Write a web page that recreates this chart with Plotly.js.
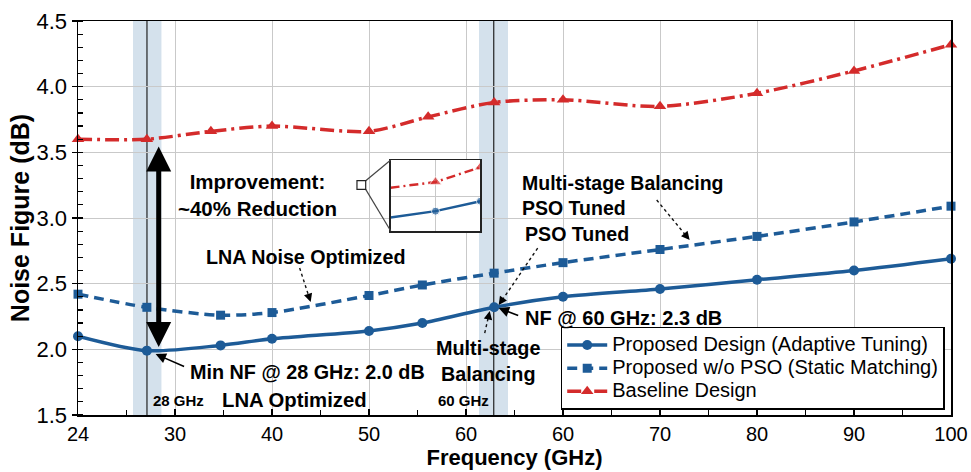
<!DOCTYPE html>
<html>
<head>
<meta charset="utf-8">
<script src="https://cdn.plot.ly/plotly-3.0.1.min.js"></script>
<style>
html,body{margin:0;padding:0;background:#fff;}
#chart{width:971px;height:472px;}
text.legendtext{font-size:20px !important;}
</style>
</head>
<body>
<div id="chart"></div>
<script>
// ---- data (x = position on the evenly spaced frequency axis, 0 = first tick) ----
var tickPos = [0, 1, 2, 3, 4, 5, 6, 7, 8, 9];
var tickLabels = ['24', '30', '40', '50', '60', '60', '70', '80', '90', '100'];

var xProposed = [0, 0.71, 1.47, 2.0, 3.0, 3.55, 4.29, 5, 6, 7, 8, 9];
var nfProposed = [2.10, 1.99, 2.03, 2.08, 2.14, 2.20, 2.32, 2.40, 2.46, 2.53, 2.60, 2.69];

var xNoPSO = [0, 0.71, 1.47, 2.0, 3.0, 3.55, 4.29, 5, 6, 7, 8, 9];
var nfNoPSO = [2.42, 2.32, 2.26, 2.28, 2.41, 2.49, 2.58, 2.66, 2.76, 2.86, 2.97, 3.09];

var xBaseline = [0, 0.71, 1.37, 2.0, 3.0, 3.61, 4.29, 5, 6, 7, 8, 9];
var nfBaseline = [3.60, 3.60, 3.66, 3.70, 3.66, 3.77, 3.88, 3.90, 3.85, 3.95, 4.12, 4.32];

// magnified inset (schematic, own units)
var insetX = [0, 1, 2];
var insetBaseline = [0.61, 0.69, 0.90];
var insetProposed = [0.19, 0.28, 0.42];

var seriesNames = ['Proposed Design (Adaptive Tuning)', 'Proposed w/o PSO (Static Matching)', 'Baseline Design'];

var BLUE = '#1d5b97';
var RED = '#d42b2b';
var FONT = 'Liberation Sans, Arial, Helvetica, sans-serif';

var traces = [
  {x: xProposed, y: nfProposed, name: seriesNames[0], type: 'scatter', mode: 'lines+markers',
   line: {color: BLUE, width: 3.5, shape: 'spline', smoothing: 0.8},
   marker: {symbol: 'circle', size: 10, color: BLUE}, cliponaxis: false},
  {x: xNoPSO, y: nfNoPSO, name: seriesNames[1], type: 'scatter', mode: 'lines+markers',
   line: {color: BLUE, width: 3.5, dash: '10px,6px', shape: 'spline', smoothing: 0.8},
   marker: {symbol: 'square', size: 9, color: BLUE}, cliponaxis: false},
  {x: xBaseline, y: nfBaseline, name: seriesNames[2], type: 'scatter', mode: 'lines+markers',
   line: {color: RED, width: 3.5, dash: '14px,5px,3px,5px', shape: 'spline', smoothing: 0.8},
   marker: {symbol: 'triangle-up', size: 11, color: RED}, cliponaxis: false},
  // inset
  {x: insetX, y: insetBaseline, xaxis: 'x2', yaxis: 'y2', type: 'scatter', mode: 'lines+markers', showlegend: false,
   line: {color: RED, width: 2.5, dash: '9px,4px,2px,4px'},
   marker: {symbol: 'triangle-up', size: [0, 11, 11], color: RED}, hoverinfo: 'skip'},
  {x: insetX, y: insetProposed, xaxis: 'x2', yaxis: 'y2', type: 'scatter', mode: 'lines+markers', showlegend: false,
   line: {color: BLUE, width: 2.5},
   marker: {symbol: 'circle', size: [0, 8, 8], color: BLUE}, hoverinfo: 'skip'}
];

var bandColor = 'rgba(176,200,220,0.55)';
var shapes = [
  {type: 'rect', xref: 'x', yref: 'paper', x0: 0.567, x1: 0.86, y0: 0, y1: 1, fillcolor: bandColor, line: {width: 0}, layer: 'below'},
  {type: 'rect', xref: 'x', yref: 'paper', x0: 4.134, x1: 4.433, y0: 0, y1: 1, fillcolor: bandColor, line: {width: 0}, layer: 'below'},
  {type: 'line', xref: 'x', yref: 'paper', x0: 0.711, x1: 0.711, y0: 0, y1: 1, line: {color: '#222', width: 1.2}, layer: 'between'},
  {type: 'line', xref: 'x', yref: 'paper', x0: 4.286, x1: 4.286, y0: 0, y1: 1, line: {color: '#222', width: 1.2}, layer: 'between'},
  // dotted leader lines
  {type: 'line', xref: 'x', yref: 'y', x0: 2.285, y0: 2.619, x1: 2.39, y1: 2.38, line: {color: '#111', width: 1.4, dash: 'dot'}},
  {type: 'line', xref: 'x', yref: 'y', x0: 4.193, y0: 2.124, x1: 4.238, y1: 2.27, line: {color: '#111', width: 1.4, dash: 'dot'}},
  {type: 'line', xref: 'x', yref: 'y', x0: 4.739, y0: 2.771, x1: 4.36, y1: 2.36, line: {color: '#111', width: 1.4, dash: 'dot'}},
  {type: 'line', xref: 'x', yref: 'y', x0: 5.966, y0: 3.137, x1: 6.28, y1: 2.855, line: {color: '#111', width: 1.4, dash: 'dot'}},
  // magnifier source square and connectors
  {type: 'line', xref: 'x', yref: 'y', x0: 2.966, y0: 3.284, x1: 3.224, y1: 3.441, line: {color: '#444', width: 1.2}},
  {type: 'line', xref: 'x', yref: 'y', x0: 2.966, y0: 3.218, x1: 3.224, y1: 2.901, line: {color: '#444', width: 1.2}},
  {type: 'rect', xref: 'x', yref: 'y', x0: 2.876, x1: 2.966, y0: 3.218, y1: 3.284, fillcolor: '#fff', line: {color: '#222', width: 1.2}},
  // inset background
  {type: 'rect', xref: 'x2', yref: 'y2', x0: 0, x1: 2, y0: 0, y1: 1, fillcolor: '#fff', line: {width: 0}, layer: 'below'}
];

function txt(x, y, text, size, opts) {
  var a = {x: x, y: y, xref: 'x', yref: 'y', text: text, showarrow: false,
           font: {family: FONT, size: size, color: '#000'}};
  for (var k in (opts || {})) a[k] = opts[k];
  return a;
}
function head(x, y, ax, ay, w, s) {
  return {x: x, y: y, xref: 'x', yref: 'y', ax: ax, ay: ay, text: '', showarrow: true,
          arrowhead: 2, arrowwidth: w, arrowsize: s, arrowcolor: '#000', standoff: 0};
}

var annotations = [
  txt(1.853, 3.175, '<b>Improvement:<br>~40% Reduction</b>', 20.5, {align: 'center'}),
  txt(2.35, 2.703, '<b>LNA Noise Optimized</b>', 19.7),
  txt(1.131, 1.827, '<b>Min NF @ 28 GHz: 2.0 dB</b>', 19.8, {xanchor: 'left'}),
  txt(1.038, 1.613, '<b>28 GHz</b>', 15),
  txt(2.234, 1.613, '<b>LNA Optimized</b>', 20.3),
  txt(4.224, 1.910, '<b>Multi-stage<br>Balancing</b>', 19.8, {align: 'center'}),
  txt(3.976, 1.613, '<b>60 GHz</b>', 15),
  txt(4.585, 2.238, '<b>NF @ 60 GHz: 2.3 dB</b>', 20, {xanchor: 'left'}),
  txt(5.144, 2.878, '<b>PSO Tuned</b>', 19.6),
  txt(4.553, 3.175, '<b>Multi-stage Balancing<br>PSO Tuned</b>', 19.5, {xanchor: 'left', align: 'left'}),
  // big double arrow
  {x: 0.832, y: 2.017, ax: 0.832, ay: 3.556, xref: 'x', yref: 'y', axref: 'x', ayref: 'y', text: '', showarrow: true,
   arrowhead: 2, startarrowhead: 2, arrowside: 'end+start', arrowwidth: 5, arrowsize: 1, startarrowsize: 1,
   arrowcolor: '#000', standoff: 0, startstandoff: 0},
  // solid pointers
  head(0.80, 1.964, 30, 13, 1.6, 1.3),
  head(4.337, 2.314, 21, 8, 1.6, 1.3),
  // heads for dotted pointers
  head(2.399, 2.360, -2, -6, 1.3, 1.3),
  head(4.245, 2.291, -1.3, 6, 1.3, 1.3),
  head(4.337, 2.337, 3.4, -5, 1.3, 1.3),
  head(6.306, 2.832, -3.8, -4.6, 1.3, 1.3)
];

var layout = {
  width: 971, height: 472,
  margin: {l: 78, r: 20, t: 21, b: 57, autoexpand: false},
  paper_bgcolor: '#fff', plot_bgcolor: '#fff',
  font: {family: FONT, color: '#000'},
  showlegend: true,
  xaxis: {
    range: [0, 9], tickmode: 'array', tickvals: tickPos, ticktext: tickLabels,
    showgrid: true, gridcolor: '#c9c9c9', gridwidth: 1, zeroline: false,
    showline: true, linecolor: '#000', linewidth: 1.5, mirror: true,
    ticks: 'inside', ticklen: 6, tickwidth: 1.2, tickcolor: '#000',
    minor: {tickmode: 'linear', tick0: 0, dtick: 0.5, ticks: 'inside', ticklen: 5, tickcolor: '#000', showgrid: false},
    tickfont: {family: FONT, size: 20, color: '#000'},
    title: {text: '<b>Frequency (GHz)</b>', font: {family: FONT, size: 22, color: '#000'}, standoff: 6}
  },
  yaxis: {
    range: [1.5, 4.5], tick0: 1.5, dtick: 0.5, tickformat: '.1f',
    showgrid: true, gridcolor: '#c9c9c9', gridwidth: 1, zeroline: false,
    showline: true, linecolor: '#000', linewidth: 1.5, mirror: true,
    ticks: 'outside', ticklen: 5, tickwidth: 1.2, tickcolor: '#000',
    minor: {dtick: 0.1, ticks: 'inside', ticklen: 5, tickcolor: '#000', showgrid: false},
    tickfont: {family: FONT, size: 22, color: '#000'},
    title: {text: '<b>Noise Figure (dB)</b>', font: {family: FONT, size: 25, color: '#000'}, standoff: 0}
  },
  xaxis2: {domain: [0.358, 0.461], anchor: 'y2', range: [0, 2], tickmode: 'array', tickvals: [1],
    showticklabels: false, ticks: '', showgrid: true, gridcolor: '#c9c9c9', zeroline: false,
    showline: true, linecolor: '#222', linewidth: 1.5, mirror: true, fixedrange: true},
  yaxis2: {domain: [0.467, 0.647], anchor: 'x2', range: [0, 1], tickmode: 'array', tickvals: [0.48],
    showticklabels: false, ticks: '', showgrid: true, gridcolor: '#c9c9c9', zeroline: false,
    showline: true, linecolor: '#222', linewidth: 1.5, mirror: true, fixedrange: true},
  legend: {x: 0.9928, y: 0.0127, xanchor: 'right', yanchor: 'bottom',
    bgcolor: '#fff', bordercolor: '#000', borderwidth: 1.5,
    font: {family: FONT, size: 15.5, color: '#000'}, tracegroupgap: 0, itemwidth: 40},
  shapes: shapes,
  annotations: annotations
};

Plotly.newPlot('chart', traces, layout, {displayModeBar: false, staticPlot: true});
</script>
</body>
</html>
